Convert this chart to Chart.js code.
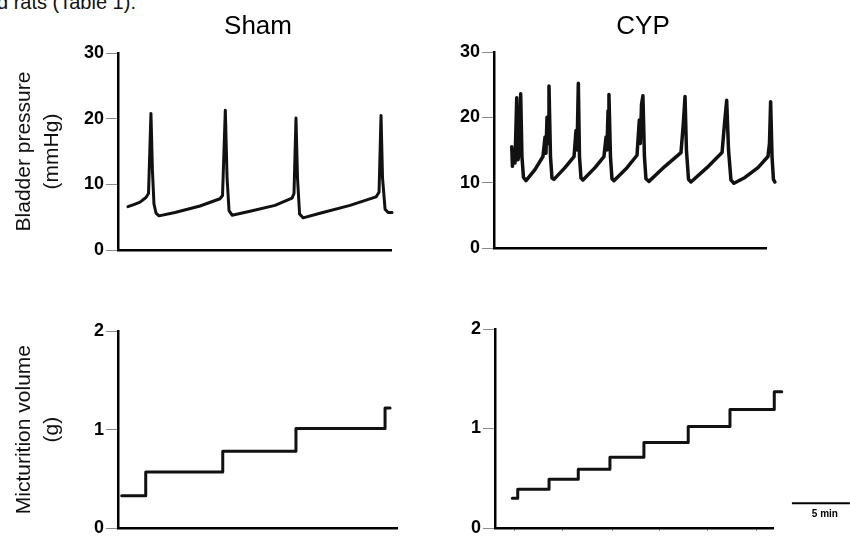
<!DOCTYPE html>
<html>
<head>
<meta charset="utf-8">
<script src="https://cdn.jsdelivr.net/npm/chart.js@4.4.1/dist/chart.umd.min.js"></script>
<style>
    html, body { margin: 0; padding: 0; background: #fff; }
    body { width: 850px; height: 541px; position: relative; overflow: hidden; font-family: 'Liberation Sans', Arial, sans-serif; }
    .panel { position: absolute; }
    #lead { position: absolute; left: -3px; top: -8px; font-size: 20px; line-height: 20px; color: #111; white-space: nowrap; }
</style>
</head>
<body>
<div id="lead">d rats (Table 1).</div>
<div class="panel" style="left:0;top:0;width:516px;height:270px"><canvas id="shamPressure"></canvas></div>
<div class="panel" style="left:436px;top:0;width:414px;height:270px"><canvas id="cypPressure"></canvas></div>
<div class="panel" style="left:0;top:270px;width:425px;height:271px"><canvas id="shamVolume"></canvas></div>
<div class="panel" style="left:425px;top:270px;width:425px;height:271px"><canvas id="cypVolume"></canvas></div>
<script>
// time in minutes, pressure in mmHg, volume in g
const shamPressT = [0.86, 1.47, 1.90, 2.41, 2.63, 2.84, 2.97, 3.10, 3.28, 3.53, 4.91, 7.07, 8.79, 9.01, 9.25, 9.40, 9.57, 9.83, 11.38, 13.53,
    15.00, 15.17, 15.34, 15.47, 15.65, 15.95, 17.41, 20.00, 22.24, 22.50, 22.67, 22.80, 23.02, 23.28, 23.62];
const shamPressV = [6.6, 7.0, 7.3, 8.0, 8.6, 20.8, 12.0, 7.0, 5.6, 5.2, 5.7, 6.7, 7.8, 8.3, 21.3, 11.0, 6.0, 5.3, 5.9, 6.8,
    7.9, 8.6, 20.1, 11.0, 5.5, 4.9, 5.6, 6.8, 8.1, 8.8, 20.5, 11.0, 6.2, 5.7, 5.7];

const cypPressT = [1.53, 1.59, 1.68, 1.81, 1.96, 2.07, 2.20, 2.30, 2.41, 2.54, 2.76, 3.53, 4.22, 4.40, 4.48, 4.57, 4.66, 4.74, 4.87, 5.00,
    5.17, 6.12, 6.90, 7.07, 7.16, 7.27, 7.37, 7.50, 7.67, 8.71, 9.48, 9.66, 9.74, 9.83, 9.91, 10.04, 10.17, 10.34, 11.47, 12.33,
    12.53, 12.61, 12.72, 12.84, 12.97, 13.10, 13.36, 14.74, 16.12, 16.32, 16.47, 16.59, 16.77, 16.98, 18.36, 19.66, 19.87, 20.06, 20.22, 20.43,
    20.69, 21.64, 22.76, 23.62, 23.75, 23.85, 23.97, 24.09, 24.22];
const cypPressV = [15.5, 12.5, 15.0, 13.0, 23.0, 13.5, 15.0, 23.6, 14.0, 10.8, 10.3, 12.0, 14.0, 17.0, 14.5, 20.0, 16.0, 24.8, 14.0, 10.7,
    10.5, 12.3, 14.0, 18.0, 15.0, 25.2, 14.0, 10.7, 10.4, 12.3, 14.0, 17.0, 15.0, 21.0, 23.5, 14.0, 10.6, 10.3, 12.3, 14.2,
    19.6, 16.0, 22.0, 23.3, 14.0, 10.6, 10.2, 12.5, 14.6, 19.0, 23.2, 15.0, 10.5, 10.1, 12.3, 14.6, 19.0, 22.6, 15.0, 10.4,
    9.9, 10.8, 12.3, 14.0, 16.0, 22.4, 14.0, 10.5, 10.1];

const shamVolT = [0.32, 2.39, 9.03, 15.34, 23.02, 23.45];
const shamVolV = [0.33, 0.57, 0.78, 1.01, 1.22, 1.22];

const cypVolT = [1.49, 1.96, 4.66, 7.18, 9.91, 12.84, 16.66, 20.26, 24.08, 24.72];
const cypVolV = [0.30, 0.39, 0.49, 0.59, 0.71, 0.86, 1.02, 1.19, 1.37, 1.37];

const cypTimeTicks = [1.72, 5.86, 10.09, 14.22, 18.36, 22.59];

const groupTitles = ["Sham", "CYP"];
const pressureTitle = ["Bladder pressure", "(mmHg)"];
const volumeTitle = ["Micturition volume", "(g)"];

const barStart = 25.6;
const barMinutes = 5;
const barLevel = 0.25;
const barLabel = "5 min";

Chart.defaults.font.family = "'Liberation Sans', Arial, Helvetica, sans-serif";
Chart.defaults.color = '#000';

function toPoints(t, v) {
    return t.map(function (x, i) { return {x: x, y: v[i]}; });
}

const scaleBar = {
    id: 'scaleBar',
    afterDraw(chart) {
        const xs = chart.scales.x, ys = chart.scales.y, c = chart.ctx;
        const x1 = xs.getPixelForValue(barStart);
        const x2 = xs.getPixelForValue(barStart + barMinutes);
        const y = ys.getPixelForValue(barLevel);
        c.save();
        c.strokeStyle = '#000';
        c.lineWidth = 2;
        c.beginPath();
        c.moveTo(x1, y);
        c.lineTo(x2, y);
        c.stroke();
        c.fillStyle = '#000';
        c.font = "bold 10px 'Liberation Sans', Arial, sans-serif";
        c.textAlign = 'center';
        c.textBaseline = 'middle';
        c.fillText(barLabel, (x1 + x2) / 2 + 4, y + 11);
        c.restore();
    }
};

function renderPanel(id, t, v, o) {
    let ctx = document.getElementById(id).getContext("2d");
    const scales = {
        x: {
            type: 'linear',
            bounds: 'data',
            ticks: {display: false},
            grid: {display: !!o.xTicks, drawOnChartArea: false, drawTicks: true, tickLength: 3, color: '#8c8c8c', lineWidth: 1},
            border: {display: true, color: '#000', width: 2.5},
            // range set here (not via min/max) so the trace may run past the axis end
            afterDataLimits: function (s) { s.min = 0; s.max = o.xMax; },
            afterBuildTicks: function (s) {
                if (o.xTicks) s.ticks = o.xTicks.map(function (x) { return {value: x}; });
            },
            afterFit: function (s) { s.height = 4; }
        },
        y: {
            type: 'linear', min: 0, max: o.yMax,
            ticks: {stepSize: o.yStep, padding: 2, color: '#000', font: {size: 18, weight: 'bold'}},
            grid: {drawOnChartArea: false, drawTicks: true, tickLength: 12, color: '#8c8c8c', lineWidth: 1},
            border: {display: true, color: '#000', width: 2.5},
            title: o.yTitle ? {display: true, text: o.yTitle, color: '#111', font: {size: 21, lineHeight: 1.333}, padding: {top: 10, bottom: 0}} : {display: false},
            afterFit: function (s) { s.width = o.yWidth; }
        }
    };
    if (o.rightGap) {
        scales.gap = {
            position: 'right', display: true,
            ticks: {display: false}, grid: {display: false}, border: {display: false},
            afterFit: function (s) { s.width = o.rightGap; }
        };
    }
    return new Chart(ctx, {
        type: 'line',
        data: {
            datasets: [{
                data: toPoints(t, v),
                borderColor: '#111',
                borderWidth: o.lineWidth,
                pointRadius: 0,
                tension: 0,
                fill: false,
                clip: false,
                stepped: o.stepped || false,
                borderJoinStyle: 'round',
                borderCapStyle: 'round'
            }]
        },
        options: {
            responsive: true,
            maintainAspectRatio: false,
            animation: false,
            events: [],
            layout: {padding: o.padding},
            plugins: {
                legend: {display: false},
                tooltip: {enabled: false},
                title: o.title ? {
                    display: true, text: o.title, color: '#000',
                    font: {size: 26, weight: 'normal', lineHeight: 1.2},
                    padding: {top: 11, bottom: o.titleBottom}
                } : {display: false}
            },
            scales: scales
        },
        plugins: o.extra || []
    });
}

renderPanel('shamPressure', shamPressT, shamPressV, {
    xMax: 23.53, yMax: 30, yStep: 10, yWidth: 118, rightGap: 125, lineWidth: 3,
    yTitle: pressureTitle, title: groupTitles[0], titleBottom: 10.8,
    padding: {top: 0, right: 0, bottom: 16, left: 0}
});

renderPanel('cypPressure', cypPressT, cypPressV, {
    xMax: 23.45, yMax: 30, yStep: 10, yWidth: 58, rightGap: 84, lineWidth: 3.5,
    title: groupTitles[1], titleBottom: 9.8,
    padding: {top: 0, right: 0, bottom: 18, left: 0}
});

renderPanel('shamVolume', shamVolT, shamVolV, {
    xMax: 24.05, yMax: 2, yStep: 1, yWidth: 118, lineWidth: 3,
    yTitle: volumeTitle, stepped: true,
    padding: {top: 61, right: 28, bottom: 8, left: 0}
});

renderPanel('cypVolume', cypVolT, cypVolV, {
    xMax: 23.97, yMax: 2, yStep: 1, yWidth: 70, lineWidth: 3,
    stepped: true, xTicks: cypTimeTicks, extra: [scaleBar],
    padding: {top: 59, right: 77, bottom: 9, left: 0}
});
</script>
</body>
</html>
